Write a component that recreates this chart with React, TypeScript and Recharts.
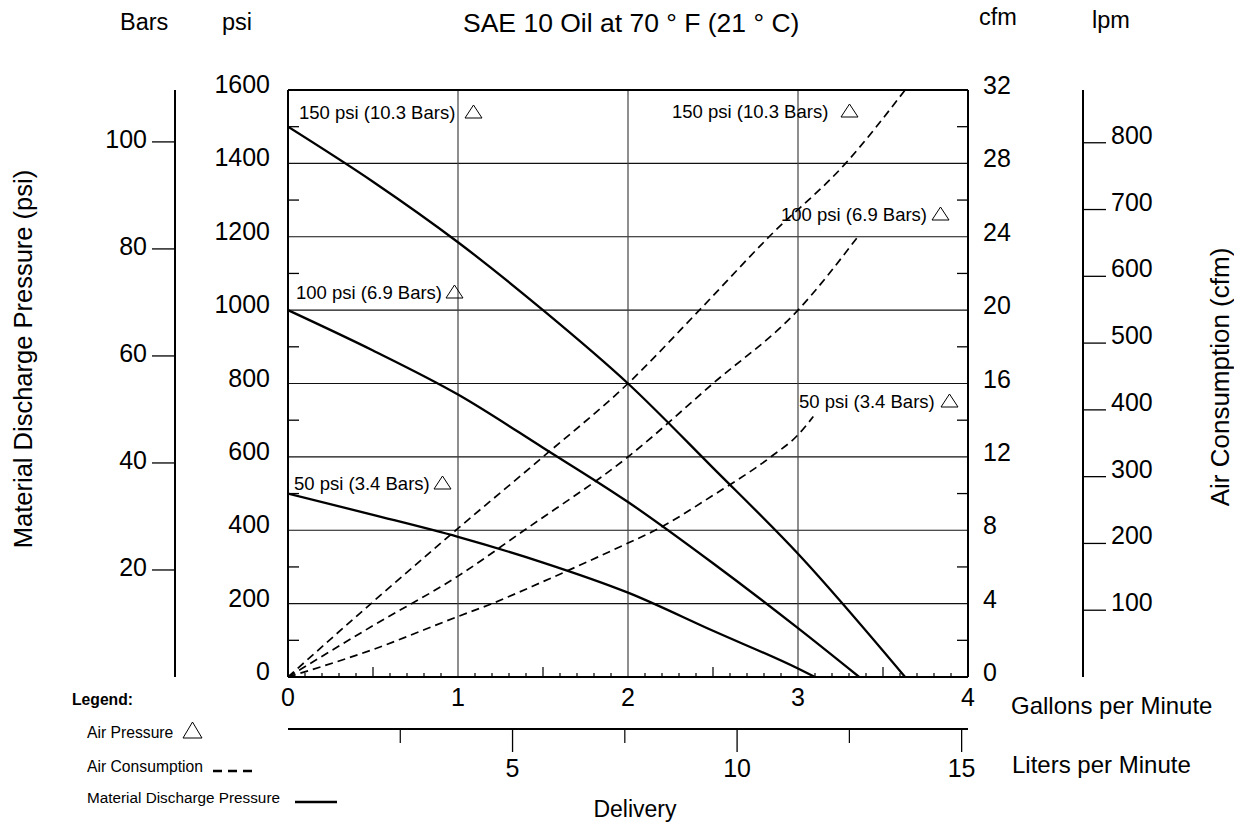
import React from "react";
import { ComposedChart, Line, XAxis, YAxis, ReferenceLine } from "recharts";

const FONT = "'Liberation Sans', Arial, Helvetica, sans-serif";

// material discharge pressure (psi) vs delivery (gpm), one curve per air pressure
const gpm150 = [0, 0.5, 1, 1.5, 2, 2.5, 3, 3.63];
const psi150 = [1500, 1350, 1185, 1000, 800, 570, 336, 0];
const gpm100 = [0, 0.5, 1, 1.5, 2, 2.5, 3, 3.36];
const psi100 = [1000, 890, 770, 625, 477, 310, 133, 0];
const gpm50 = [0, 0.5, 1, 1.5, 2, 2.5, 3, 3.1];
const psi50 = [500, 442, 382, 312, 230, 126, 23, 0];

// air consumption (cfm) vs delivery (gpm)
const airGpm150 = [0, 0.5, 1, 1.5, 2, 2.42, 2.83, 3.28, 3.63];
const cfm150 = [0, 4.1, 8.1, 12, 16, 20, 24, 28, 32];
const airGpm100 = [0, 0.5, 1, 1.39, 2, 2.5, 3, 3.36];
const cfm100 = [0, 2.8, 5.5, 8, 12, 16, 20, 24.1];
const airGpm50 = [0, 0.5, 1, 1.2, 1.5, 2, 2.16, 2.5, 2.84, 3, 3.09];
const cfm50 = [0, 1.5, 3.3, 4, 5.2, 7.3, 8, 9.9, 12, 13.2, 14.2];

// axis ticks
const psiLabels = [0, 200, 400, 600, 800, 1000, 1200, 1400, 1600];
const psiGrid = [200, 400, 600, 800, 1000, 1200, 1400];
const cfmLabels = [0, 4, 8, 12, 16, 20, 24, 28, 32];
const barsLabels = [20, 40, 60, 80, 100];
const lpmLabels = [100, 200, 300, 400, 500, 600, 700, 800];
const gpmGrid = [1, 2, 3];
const litersLabels = [5, 10, 15];
const litersMinor = [2.5, 7.5, 12.5];

const GAL_TO_L = 3.78541;

const zip = (xs: number[], ys: number[], key: string) => xs.map((g, i) => ({ gpm: g, [key]: ys[i] }));

const mat150 = zip(gpm150, psi150, "psi");
const mat100 = zip(gpm100, psi100, "psi");
const mat50 = zip(gpm50, psi50, "psi");
const air150 = zip(airGpm150, cfm150, "cfm");
const air100 = zip(airGpm100, cfm100, "cfm");
const air50 = zip(airGpm50, cfm50, "cfm");

const psiTicks = [...psiLabels, ...psiLabels.slice(0, -1).map((v) => v + 100)].sort((a, b) => a - b);
const cfmTicks = [...cfmLabels, ...cfmLabels.slice(0, -1).map((v) => v + 2)].sort((a, b) => a - b);
const gpmTicks = Array.from({ length: 41 }, (_, i) => i / 10);
const litersTicks = [...litersMinor, ...litersLabels].sort((a, b) => a - b);

const PsiTick = (props: any) => {
  const { x, y, payload } = props;
  const v = payload.value;
  if (v % 200 === 0)
    return (
      <text x={x - 18} y={y} dy={3} textAnchor="end" fontSize={25} fontFamily={FONT} fill="#000">
        {v}
      </text>
    );
  return <line x1={x} x2={x + 11} y1={y} y2={y} stroke="#000" strokeWidth={1.3} />;
};

const CfmTick = (props: any) => {
  const { x, y, payload } = props;
  const v = payload.value;
  if (v % 4 === 0)
    return (
      <text x={x + 15} y={y} dy={4} textAnchor="start" fontSize={25} fontFamily={FONT} fill="#000">
        {v}
      </text>
    );
  return <line x1={x} x2={x - 11} y1={y} y2={y} stroke="#000" strokeWidth={1.3} />;
};

const GpmTick = (props: any) => {
  const { x, y, payload } = props;
  const r = Math.round(payload.value * 10);
  if (r % 10 === 0)
    return (
      <text x={x} y={y + 29} textAnchor="middle" fontSize={25} fontFamily={FONT} fill="#000">
        {r / 10}
      </text>
    );
  const len = r % 5 === 0 ? 10 : 4;
  return <line x1={x} x2={x} y1={y} y2={y - len} stroke="#000" strokeWidth={1.2} />;
};

const LitersTick = (props: any) => {
  const { x, y, payload } = props;
  const v = payload.value;
  if (v % 5 === 0)
    return (
      <g>
        <line x1={x} x2={x} y1={y} y2={y + 23} stroke="#000" strokeWidth={1.3} />
        <text x={x} y={y + 48} textAnchor="middle" fontSize={25} fontFamily={FONT} fill="#000">
          {v}
        </text>
      </g>
    );
  return <line x1={x} x2={x} y1={y} y2={y + 14} stroke="#000" strokeWidth={1.2} />;
};

const BarsTick = (props: any) => {
  const { x, y, payload } = props;
  return (
    <text x={x} y={y} dy={6} textAnchor="end" fontSize={25} fontFamily={FONT} fill="#000">
      {payload.value}
    </text>
  );
};

const LpmTick = (props: any) => {
  const { x, y, payload } = props;
  return (
    <text x={x} y={y} dy={1} textAnchor="start" fontSize={25} fontFamily={FONT} fill="#000">
      {payload.value}
    </text>
  );
};

const Tri = ({ x, y, w = 17, h = 13 }: { x: number; y: number; w?: number; h?: number }) => (
  <polygon points={`${x},${y} ${x + w},${y} ${x + w / 2},${y - h}`} fill="none" stroke="#000" strokeWidth={1} />
);

const CurveLabel = ({ x, y, text, tx }: { x: number; y: number; text: string; tx: number }) => (
  <g>
    <text x={x} y={y} fontSize={18.5} fontFamily={FONT} fill="#000">
      {text}
    </text>
    <Tri x={tx} y={y - 1} />
  </g>
);

export default function App() {
  return (
    <div style={{ position: "absolute", left: 0, top: 0, width: 1234, height: 824, background: "#fff" }}>
      <ComposedChart width={1234} height={824} margin={{ top: 90, right: 71, bottom: 55, left: 60 }}>
        <XAxis
          xAxisId="gpm"
          dataKey="gpm"
          type="number"
          domain={[0, 4]}
          allowDataOverflow
          ticks={gpmTicks}
          interval={0}
          tickSize={0}
          tickMargin={0}
          tickLine={false}
          tick={<GpmTick />}
          height={52}
          axisLine={{ stroke: "#000", strokeWidth: 2 }}
        />
        <XAxis
          xAxisId="liters"
          dataKey="liters"
          type="number"
          domain={[0, 4 * GAL_TO_L]}
          allowDataOverflow
          ticks={litersTicks}
          interval={0}
          tickSize={0}
          tickMargin={0}
          tickLine={false}
          tick={<LitersTick />}
          height={40}
          axisLine={{ stroke: "#000", strokeWidth: 2 }}
        />
        <YAxis
          yAxisId="bars"
          orientation="left"
          type="number"
          domain={[0, 109.7]}
          allowDataOverflow
          ticks={barsLabels}
          interval={0}
          width={115}
          tickSize={23}
          tickMargin={5}
          tickLine={{ stroke: "#000", strokeWidth: 1.3 }}
          tick={<BarsTick />}
          axisLine={{ stroke: "#000", strokeWidth: 2 }}
        />
        <YAxis
          yAxisId="apsi"
          orientation="left"
          type="number"
          domain={[0, 1600]}
          allowDataOverflow
          ticks={psiTicks}
          interval={0}
          width={113}
          tickSize={0}
          tickMargin={0}
          tickLine={false}
          tick={<PsiTick />}
          axisLine={{ stroke: "#000", strokeWidth: 2 }}
        />
        <YAxis
          yAxisId="cfm"
          orientation="right"
          type="number"
          domain={[0, 32]}
          allowDataOverflow
          ticks={cfmTicks}
          interval={0}
          width={115}
          tickSize={0}
          tickMargin={0}
          tickLine={false}
          tick={<CfmTick />}
          axisLine={{ stroke: "#000", strokeWidth: 2 }}
        />
        <YAxis
          yAxisId="lpm"
          orientation="right"
          type="number"
          domain={[0, 879]}
          allowDataOverflow
          ticks={lpmLabels}
          interval={0}
          width={80}
          tickSize={23}
          tickMargin={5}
          tickLine={{ stroke: "#000", strokeWidth: 1.3 }}
          tick={<LpmTick />}
          axisLine={{ stroke: "#000", strokeWidth: 2 }}
        />

        {psiGrid.map((v) => (
          <ReferenceLine key={`h${v}`} xAxisId="gpm" yAxisId="apsi" y={v} stroke="#111" strokeWidth={1.2} />
        ))}
        {gpmGrid.map((v) => (
          <ReferenceLine key={`v${v}`} xAxisId="gpm" yAxisId="apsi" x={v} stroke="#444" strokeWidth={1.2} />
        ))}
        <ReferenceLine xAxisId="gpm" yAxisId="apsi" y={1600} stroke="#000" strokeWidth={2} />

        <Line data={air150} dataKey="cfm" xAxisId="gpm" yAxisId="cfm" type="monotone" stroke="#000" strokeWidth={1.7} strokeDasharray="8 5" dot={false} isAnimationActive={false} />
        <Line data={air100} dataKey="cfm" xAxisId="gpm" yAxisId="cfm" type="monotone" stroke="#000" strokeWidth={1.7} strokeDasharray="8 5" dot={false} isAnimationActive={false} />
        <Line data={air50} dataKey="cfm" xAxisId="gpm" yAxisId="cfm" type="monotone" stroke="#000" strokeWidth={1.7} strokeDasharray="8 5" dot={false} isAnimationActive={false} />
        <Line data={mat150} dataKey="psi" xAxisId="gpm" yAxisId="apsi" type="monotone" stroke="#000" strokeWidth={2.3} dot={false} isAnimationActive={false} />
        <Line data={mat100} dataKey="psi" xAxisId="gpm" yAxisId="apsi" type="monotone" stroke="#000" strokeWidth={2.3} dot={false} isAnimationActive={false} />
        <Line data={mat50} dataKey="psi" xAxisId="gpm" yAxisId="apsi" type="monotone" stroke="#000" strokeWidth={2.3} dot={false} isAnimationActive={false} />
      </ComposedChart>

      <svg width={1234} height={824} style={{ position: "absolute", left: 0, top: 0, pointerEvents: "none" }}>
        <text x={463} y={32} fontSize={26.5} fontFamily={FONT} fill="#000">
          SAE 10 Oil at 70 ° F (21 ° C)
        </text>
        <text x={120} y={30} fontSize={23.5} fontFamily={FONT} fill="#000">Bars</text>
        <text x={222} y={30} fontSize={23.5} fontFamily={FONT} fill="#000">psi</text>
        <text x={979} y={25} fontSize={23.5} fontFamily={FONT} fill="#000">cfm</text>
        <text x={1092} y={28} fontSize={23.5} fontFamily={FONT} fill="#000">lpm</text>

        <text transform="translate(32,359) rotate(-90)" textAnchor="middle" fontSize={25.5} fontFamily={FONT} fill="#000">
          Material Discharge Pressure (psi)
        </text>
        <text transform="translate(1229,377) rotate(-90)" textAnchor="middle" fontSize={26} fontFamily={FONT} fill="#000">
          Air Consumption (cfm)
        </text>

        <text x={1011} y={714} fontSize={24} fontFamily={FONT} fill="#000">Gallons per Minute</text>
        <text x={1012} y={773} fontSize={24} fontFamily={FONT} fill="#000">Liters per Minute</text>
        <text x={635} y={817} textAnchor="middle" fontSize={23} fontFamily={FONT} fill="#000">Delivery</text>

        <CurveLabel x={299} y={119} text="150 psi (10.3 Bars)" tx={465} />
        <CurveLabel x={672} y={118} text="150 psi (10.3 Bars)" tx={841} />
        <CurveLabel x={296} y={299} text="100 psi (6.9 Bars)" tx={446} />
        <CurveLabel x={781} y={221} text="100 psi (6.9 Bars)" tx={932} />
        <CurveLabel x={294} y={490} text="50 psi (3.4 Bars)" tx={434} />
        <CurveLabel x={799} y={408} text="50 psi (3.4 Bars)" tx={941} />

        <text x={72} y={705} fontSize={15.7} fontWeight="bold" fontFamily={FONT} fill="#000">Legend:</text>
        <text x={87} y={738} fontSize={15.7} fontFamily={FONT} fill="#000">Air Pressure</text>
        <Tri x={183} y={738} w={19} h={16} />
        <text x={87} y={772} fontSize={15.7} fontFamily={FONT} fill="#000">Air Consumption</text>
        <line x1={213} x2={257} y1={771} y2={771} stroke="#000" strokeWidth={2.5} strokeDasharray="9 6" />
        <text x={87} y={803} fontSize={15.3} fontFamily={FONT} fill="#000">Material Discharge Pressure</text>
        <line x1={295} x2={337} y1={802} y2={802} stroke="#000" strokeWidth={2.5} />
      </svg>
    </div>
  );
}
